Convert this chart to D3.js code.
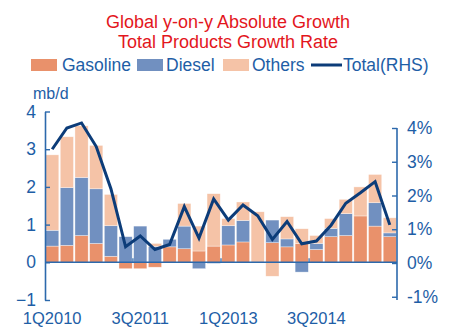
<!DOCTYPE html>
<html>
<head>
<meta charset="utf-8">
<script src="https://cdn.jsdelivr.net/npm/d3@7/dist/d3.min.js"></script>
<style>
  html, body { margin: 0; padding: 0; background: #ffffff; }
  svg { display: block; font-family: "Liberation Sans", Arial, sans-serif; }
</style>
</head>
<body>
<svg id="chart" width="451" height="330"></svg>
<script>
const quarters = ["1Q2010","2Q2010","3Q2010","4Q2010","1Q2011","2Q2011","3Q2011","4Q2011",
  "1Q2012","2Q2012","3Q2012","4Q2012","1Q2013","2Q2013","3Q2013","4Q2013",
  "1Q2014","2Q2014","3Q2014","4Q2014","1Q2015","2Q2015","3Q2015","4Q2015"];
const gasoline = [0.43,0.45,0.71,0.50,0.16,-0.17,-0.17,-0.13,0.41,0.36,0.30,0.43,0.46,0.54,0.00,0.52,0.41,0.50,0.34,0.68,0.71,1.23,0.96,0.68];
const diesel   = [0.42,1.53,1.54,1.45,0.81,0.68,0.96,0.42,0.20,0.60,-0.17,-0.03,0.51,0.57,0.00,0.60,0.21,-0.26,0.16,0.22,0.58,0.00,0.62,0.10];
const others   = [2.00,1.35,1.37,1.15,0.83,0.00,0.00,0.08,0.00,0.60,0.66,1.39,0.19,0.49,1.34,-0.37,0.59,0.39,0.21,0.26,0.38,0.77,0.75,0.40];
const totalRHS = [3.37,4.00,4.15,3.45,2.20,0.48,0.80,0.40,0.55,1.67,0.74,1.90,1.27,1.72,1.40,0.70,1.23,0.57,0.65,1.12,1.77,2.08,2.41,1.13];
const xTickLabels = ["1Q2010","3Q2011","1Q2013","3Q2014"];
const leftTicks = [-1,0,1,2,3,4];
const rightTicks = [-1,0,1,2,3,4];
const seriesNames = ["Gasoline","Diesel","Others"];
const titleLines = ["Global y-on-y Absolute Growth","Total Products Growth Rate"];

const colors = {Gasoline:"#E9916B", Diesel:"#7190C0", Others:"#F5C3A7"};
const lineColor = "#0C3C79";
const axisColor = "#2C69AC";
const textColor = "#1E5EA6";

const svg = d3.select("#chart");

const rows = quarters.map((q,i)=>({q, Gasoline:gasoline[i], Diesel:diesel[i], Others:others[i]}));

const x = d3.scaleBand().domain(quarters).range([45,397]).paddingInner(0.1).paddingOuter(0.04);
const yL = d3.scaleLinear().domain([-1,4]).range([300,111.5]);
const yR = d3.scaleLinear().domain([0,4]).range([263,128]);

// title
svg.selectAll("text.title").data(titleLines).join("text")
  .attr("class","title")
  .attr("x",228).attr("y",(d,i)=>28+i*20)
  .attr("text-anchor","middle")
  .attr("fill","#E3161D")
  .attr("font-size",18)
  .text(d=>d);

// legend
const leg = svg.append("g");
const legItems = [
  {name:"Gasoline", x:31, tx:62},
  {name:"Diesel", x:137, tx:166},
  {name:"Others", x:223, tx:252}
];
legItems.forEach(it=>{
  leg.append("rect").attr("x",it.x).attr("y",59).attr("width",26).attr("height",12)
    .attr("fill",colors[it.name]);
  leg.append("text").attr("x",it.tx).attr("y",70.5).attr("fill",textColor)
    .attr("font-size",17.5).text(it.name);
});
leg.append("line").attr("x1",311).attr("x2",342).attr("y1",65).attr("y2",65)
  .attr("stroke",lineColor).attr("stroke-width",3);
leg.append("text").attr("x",343).attr("y",70.5).attr("fill",textColor)
  .attr("font-size",17.5).text("Total(RHS)");

svg.append("text").attr("x",33).attr("y",99).attr("fill",textColor)
  .attr("font-size",16).text("mb/d");

// bars
const stack = d3.stack().keys(seriesNames).offset(d3.stackOffsetDiverging);
const stacked = stack(rows);
svg.append("g").selectAll("g").data(stacked).join("g")
  .attr("fill",d=>colors[d.key])
  .selectAll("rect").data(d=>d).join("rect")
  .attr("x",d=>x(d.data.q))
  .attr("width",x.bandwidth())
  .attr("y",d=>yL(Math.max(d[0],d[1])))
  .attr("height",d=>Math.abs(yL(d[0])-yL(d[1])))
  .attr("stroke","#ffffff").attr("stroke-width",0.6).attr("stroke-opacity",0.6);

// zero line
svg.append("line").attr("x1",45).attr("x2",397).attr("y1",yL(0)).attr("y2",yL(0))
  .attr("stroke",axisColor).attr("stroke-width",1.6);
// x ticks at group boundaries
const tickIdx = [0,6,12,18];
svg.append("g").selectAll("line").data(tickIdx.slice(1)).join("line")
  .attr("x1",i=>x(quarters[i]) - x.step()*x.paddingInner()/2)
  .attr("x2",i=>x(quarters[i]) - x.step()*x.paddingInner()/2)
  .attr("y1",yL(0)).attr("y2",yL(0)-4)
  .attr("stroke",axisColor).attr("stroke-width",1.2);

// x labels
svg.append("g").selectAll("text").data(xTickLabels).join("text")
  .attr("x",d=>x(d)+x.bandwidth()/2)
  .attr("y",324)
  .attr("text-anchor","middle")
  .attr("fill",textColor)
  .attr("font-size",16.5)
  .text(d=>d);

// left axis
const gL = svg.append("g").attr("transform","translate(45,0)")
  .call(d3.axisLeft(yL).tickValues(leftTicks).tickSizeInner(-5).tickSizeOuter(0).tickPadding(9).tickFormat(d3.format("d")));
gL.select(".domain").attr("stroke",axisColor).attr("stroke-width",1.6);
gL.selectAll(".tick line").attr("stroke",axisColor).attr("stroke-width",1.4);
gL.selectAll(".tick text").attr("fill",textColor).attr("font-size",17.5)
  .attr("font-family","Liberation Sans, Arial, sans-serif");

// right axis
const gR = svg.append("g").attr("transform","translate(397,0)")
  .call(d3.axisRight(yR).tickValues(rightTicks).tickSizeInner(-5).tickSizeOuter(0).tickPadding(10).tickFormat(d=>d+"%"));
gR.select(".domain").attr("stroke",axisColor).attr("stroke-width",1.6)
  .attr("d","M0,"+yR(4)+"V300");
gR.selectAll(".tick line").attr("stroke",axisColor).attr("stroke-width",1.4);
gR.selectAll(".tick text").attr("fill",textColor).attr("font-size",17.5)
  .attr("font-family","Liberation Sans, Arial, sans-serif");

// total line
const line = d3.line()
  .x((d,i)=>x(quarters[i])+x.bandwidth()/2)
  .y(d=>yR(d));
svg.append("path").datum(totalRHS)
  .attr("d",line)
  .attr("fill","none")
  .attr("stroke",lineColor)
  .attr("stroke-width",3)
  .attr("stroke-linejoin","miter");
</script>
</body>
</html>
